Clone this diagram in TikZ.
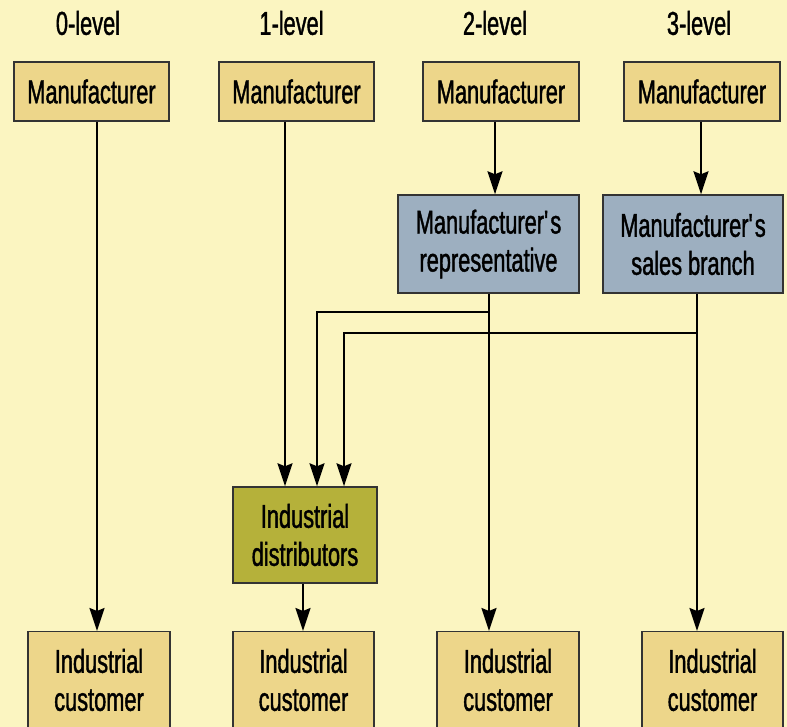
\documentclass[tikz,border=0pt]{standalone}
\usepackage{fontspec}
\setmainfont[FakeStretch=0.66,FakeBold=1.2]{Liberation Sans}
\usetikzlibrary{arrows.meta,calc}
\definecolor{bg}{HTML}{FBF5C1}
\definecolor{tan}{HTML}{EDD68A}
\definecolor{slate}{HTML}{9DAFC0}
\definecolor{olive}{HTML}{B5B13A}
\definecolor{edge}{HTML}{333333}
\begin{document}
\begin{tikzpicture}[x=1pt,y=-1pt,
  every node/.style={font=\fontsize{33}{38}\selectfont},
  box/.style={draw=edge,line width=1.4pt,rectangle,inner sep=0pt,align=center},
  tanbox/.style={box,fill=tan},
  slatebox/.style={box,fill=slate},
  olivebox/.style={box,fill=olive},
  title/.style={inner sep=0pt},
  lbl/.style={inner sep=0pt,align=center},
  arr/.style={line width=2.2pt,-{Stealth[length=23pt,width=15pt,inset=3pt]}}]
\path[use as bounding box,fill=bg] (0,0) rectangle (787,727);
\clip (0,0) rectangle (787,727);
% titles
\node[title] (t0) at (88,23) {0-level};
\node[title] (t1) at (291.5,23) {1-level};
\node[title] (t2) at (495,23) {2-level};
\node[title] (t3) at (699,23) {3-level};
% top manufacturers
\node[tanbox,minimum width=155pt,minimum height=59pt] (m0) at (91.5,91.5) {Manufacturer};
\node[tanbox,minimum width=155pt,minimum height=59pt] (m1) at (296.5,91.5) {Manufacturer};
\node[tanbox,minimum width=156pt,minimum height=59pt] (m2) at (501,91.5) {Manufacturer};
\node[tanbox,minimum width=156pt,minimum height=59pt] (m3) at (702,91.5) {Manufacturer};
% intermediaries
\node[slatebox,minimum width=181pt,minimum height=98pt] (rep) at (488.5,244) {Manufacturer\textquotesingle s\\representative};
\node[slatebox,minimum width=180pt,minimum height=98pt] (br) at (693,244) {Manufacturer\textquotesingle s\\sales branch};
\node[olivebox,minimum width=144pt,minimum height=96pt] (dist) at (305,535) {Industrial\\distributors};
% customers
\node[tanbox,minimum width=142pt,minimum height=130pt,anchor=north] (c0) at (99,631) {};
\node[tanbox,minimum width=141pt,minimum height=130pt,anchor=north] (c1) at (303.5,631) {};
\node[tanbox,minimum width=142pt,minimum height=130pt,anchor=north] (c2) at (508,631) {};
\node[tanbox,minimum width=141pt,minimum height=130pt,anchor=north] (c3) at (712.5,631) {};
\node[lbl] (c0t) at (99,680) {Industrial\\customer};
\node[lbl] (c1t) at (303.5,680) {Industrial\\customer};
\node[lbl] (c2t) at (508,680) {Industrial\\customer};
\node[lbl] (c3t) at (712.5,680) {Industrial\\customer};
% coordinates for branching
\coordinate (j1) at ([xshift=0.5pt]rep.south |- 0,312);
\coordinate (j2) at ([xshift=4pt]br.south |- 0,333);
% connectors
\draw[arr] ([xshift=5.5pt]m0.south) -- ([xshift=5.5pt]m0.south |- c0.north);
\draw[arr] ([xshift=-11.5pt]m1.south) -- ([xshift=-11.5pt]m1.south |- dist.north);
\draw[arr] ([xshift=-6pt]m2.south) -- ([xshift=-6pt]m2.south |- rep.north);
\draw[arr] ([xshift=-1pt]m3.south) -- ([xshift=-1pt]m3.south |- br.north);
\draw[arr] ([xshift=0.5pt]rep.south) -- ([xshift=0.5pt]rep.south |- c2.north);
\draw[arr] ([xshift=4pt]br.south) -- ([xshift=4pt]br.south |- c3.north);
\draw[arr] (j1) -- (317,312) -- (317,312 |- dist.north);
\draw[arr] (j2) -- (344,333) -- (344,333 |- dist.north);
\draw[arr] ([xshift=-2pt]dist.south) -- ([xshift=-2pt]dist.south |- c1.north);
\end{tikzpicture}
\end{document}
